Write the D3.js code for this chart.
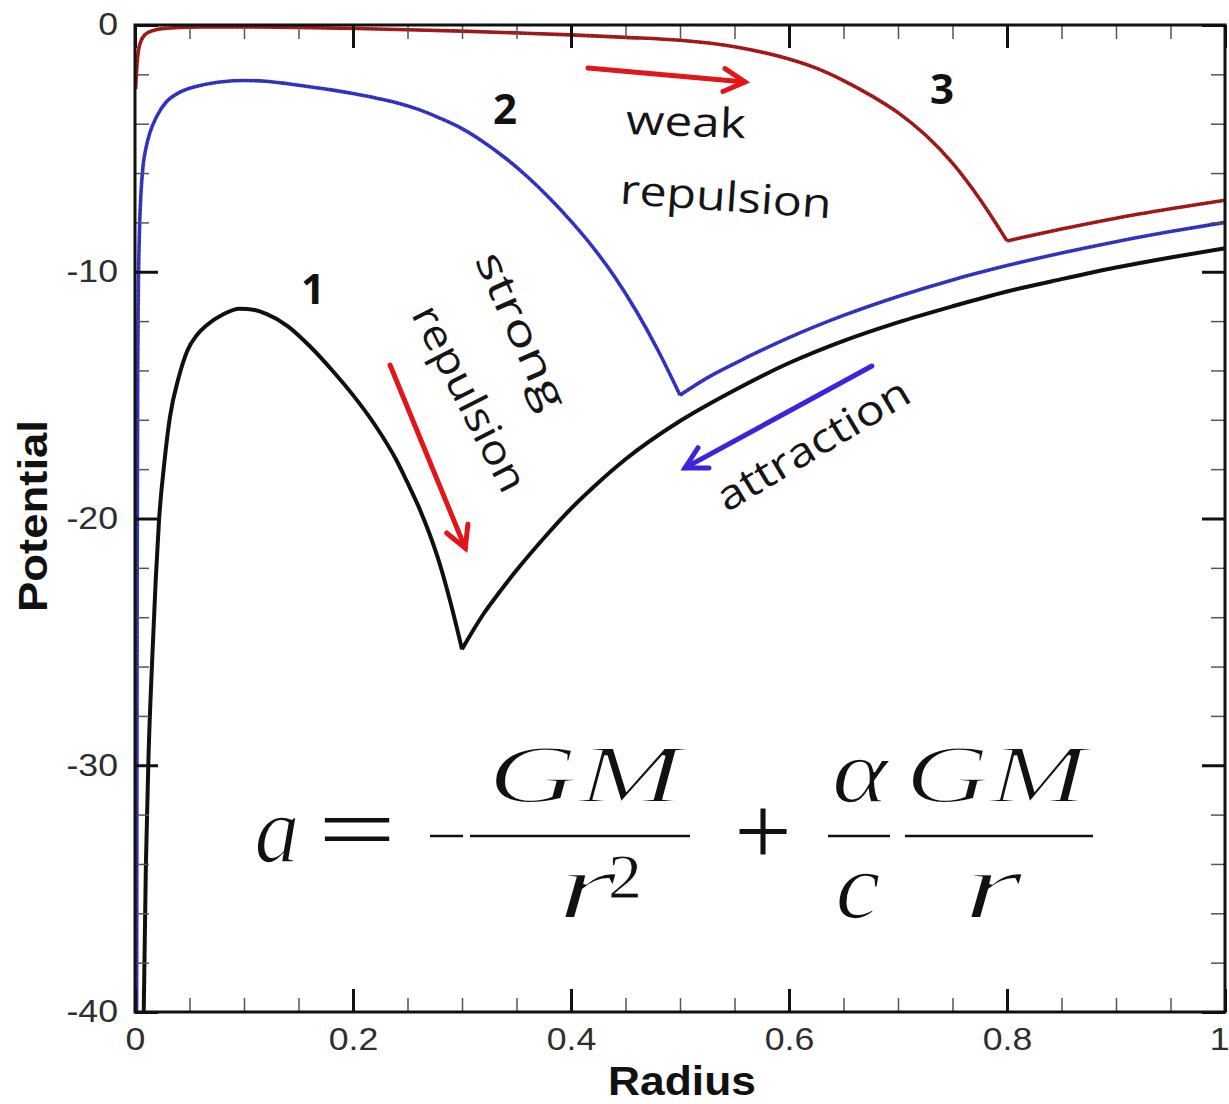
<!DOCTYPE html>
<html><head><meta charset="utf-8">
<script src="https://cdn.jsdelivr.net/npm/d3@7"></script>
<style>body{margin:0;background:#fff;} svg{display:block;}</style>
</head><body>
<script>
// ---- data ----
const radius1 = [0.008,0.010,0.0125,0.0156,0.019,0.022,0.027,0.032,0.04,0.048,0.057,0.066,0.081,0.096,0.11,0.12,0.14,0.16,0.18,0.2,0.22,0.24,0.25,0.26,0.27,0.28,0.29,0.3,
                 0.31,0.32,0.335,0.35,0.375,0.4,0.425,0.45,0.5,0.55,0.6,0.65,0.7,0.75,0.8,0.85,0.9,0.95,1.0];
const potential1 = [-40,-34,-29.5,-25.9,-22.5,-20.1,-17.7,-15.9,-14.3,-13.2,-12.55,-12.16,-11.72,-11.5,-11.55,-11.7,-12.2,-13.0,-13.95,-15.0,-16.2,-17.65,-18.55,-19.5,-20.6,-21.9,-23.5,-25.3,
                 -24.55,-23.85,-22.95,-22.1,-20.8,-19.6,-18.55,-17.6,-16.05,-14.8,-13.7,-12.8,-12.05,-11.4,-10.8,-10.3,-9.83,-9.42,-9.05];
const radius2 = [0.0015,0.002,0.0025,0.003,0.004,0.0055,0.0073,0.01,0.0138,0.02,0.029,0.04,0.06,0.08,0.1,0.12,0.14,0.16,0.18,0.2,0.22,0.24,0.26,0.28,0.3,0.32,0.34,0.36,0.38,0.4,0.42,0.44,0.46,0.48,0.5,
                 0.525,0.55,0.6,0.65,0.7,0.75,0.8,0.85,0.9,0.95,1.0];
const potential2 = [-40,-22,-14,-11,-8.5,-6.8,-5.75,-5.0,-4.35,-3.7,-3.1,-2.75,-2.45,-2.3,-2.25,-2.28,-2.38,-2.5,-2.63,-2.78,-2.95,-3.15,-3.42,-3.78,-4.2,-4.75,-5.4,-6.15,-7.0,-7.95,-9.0,-10.2,-11.6,-13.2,-15.0,
                 -14.3,-13.72,-12.67,-11.77,-11.0,-10.33,-9.75,-9.24,-8.78,-8.37,-8.0];
const radius3 = [0.0005,0.001,0.002,0.003,0.004,0.006,0.008,0.011,0.015,0.02,0.03,0.041,0.06,0.1,0.15,0.2,0.25,0.3,0.35,0.4,0.45,0.5,0.55,0.6,0.625,0.65,0.675,0.7,0.725,0.75,0.775,0.8,
                 0.85,0.9,0.95,1.0];
const potential3 = [-2.6,-2.2,-1.5,-1.1,-0.85,-0.6,-0.45,-0.33,-0.25,-0.18,-0.13,-0.1,-0.08,-0.08,-0.1,-0.14,-0.19,-0.25,-0.32,-0.4,-0.5,-0.62,-0.88,-1.38,-1.75,-2.25,-2.85,-3.55,-4.45,-5.6,-7.05,-8.75,
                 -8.27,-7.83,-7.45,-7.1];
const cuspRadius = [0.3, 0.5, 0.8];
const seriesNames = ["1","2","3"];

const xTicks = [0,0.2,0.4,0.6,0.8,1];
const xTickLabels = ["0","0.2","0.4","0.6","0.8","1"];
const xMinor = [0.05,0.1,0.15,0.25,0.3,0.35,0.45,0.5,0.55,0.65,0.7,0.75,0.85,0.9,0.95];
const yTicks = [0,-10,-20,-30,-40];
const yTickLabels = ["0","-10","-20","-30","-40"];
const yMinor = [-2,-4,-6,-8,-12,-14,-16,-18,-22,-24,-26,-28,-32,-34,-36,-38];

// ---- layout ----
const W = 1229, H = 1104;
const X0 = 135, X1 = 1225, Y0 = 25, Y1 = 1012;
const x = d3.scaleLinear().domain([0,1]).range([X0,X1]);
const y = d3.scaleLinear().domain([-40,0]).range([Y1,Y0]);

const svg = d3.select("body").append("svg").attr("width",W).attr("height",H);
svg.append("rect").attr("width",W).attr("height",H).attr("fill","#fff");

svg.append("defs").append("clipPath").attr("id","plot")
  .append("rect").attr("x",X0).attr("y",Y0).attr("width",X1-X0).attr("height",Y1-Y0);

// ---- curves ----
const colors = ["#121212","#3838cc","#ad1c1c"];
const allSeries = [[radius1,potential1],[radius2,potential2],[radius3,potential3]];
const line = d3.line().x(d=>x(d[0])).y(d=>y(d[1])).curve(d3.curveMonotoneX);
const gCurves = svg.append("g").attr("clip-path","url(#plot)");
allSeries.forEach(([rs,vs],i)=>{
  const pts = rs.map((r,j)=>[r,vs[j]]);
  const left = pts.filter(p=>p[0]<=cuspRadius[i]);
  const right = pts.filter(p=>p[0]>=cuspRadius[i]);
  [left,right].forEach(seg=>{
    gCurves.append("path").attr("d",line(seg)).attr("fill","none")
      .attr("stroke",colors[i]).attr("stroke-width",i===0?4:3.6).attr("stroke-linejoin","round");
    gCurves.append("path").attr("d",line(seg)).attr("fill","none")
      .attr("stroke",d3.color(colors[i]).darker(1)).attr("stroke-width",2.4)
      .attr("stroke-dasharray","2.5 2").attr("opacity",0.55);
  });
});

// ---- axes (ticks inward on all four sides) ----
function styleAxis(g){ g.select(".domain").remove(); }
const tickFont = "'Liberation Sans', Arial, sans-serif";
function styleLabels(g){
  g.selectAll("text").attr("font-family",tickFont).attr("font-size",31).attr("fill","#2e2e2e")
   .each(function(){ const L=this.getComputedTextLength(); d3.select(this).attr("textLength",L*1.15).attr("lengthAdjust","spacingAndGlyphs"); });
}
svg.append("g").attr("transform",`translate(0,${Y1})`)
  .call(d3.axisBottom(x).tickValues(xTicks).tickFormat((d,i)=>xTickLabels[i]).tickSizeInner(-23).tickSizeOuter(0).tickPadding(16))
  .call(styleAxis)
  .call(g=>{g.selectAll("line").attr("stroke","#111").attr("stroke-width",3); styleLabels(g);
            // keep the last label inside the picture
            g.selectAll("text").filter(d=>d===1).attr("text-anchor","end").attr("dx",4);});
svg.append("g").attr("transform",`translate(0,${Y1})`)
  .call(d3.axisBottom(x).tickValues(xMinor).tickFormat("").tickSizeInner(-14).tickSizeOuter(0))
  .call(styleAxis).call(g=>g.selectAll("line").attr("stroke","#555").attr("stroke-width",1.5));
svg.append("g").attr("transform",`translate(0,${Y0})`)
  .call(d3.axisTop(x).tickValues(xTicks).tickFormat("").tickSizeInner(-23).tickSizeOuter(0))
  .call(styleAxis).call(g=>g.selectAll("line").attr("stroke","#111").attr("stroke-width",3));
svg.append("g").attr("transform",`translate(0,${Y0})`)
  .call(d3.axisTop(x).tickValues(xMinor).tickFormat("").tickSizeInner(-14).tickSizeOuter(0))
  .call(styleAxis).call(g=>g.selectAll("line").attr("stroke","#555").attr("stroke-width",1.5));

svg.append("g").attr("transform",`translate(${X0},0)`)
  .call(d3.axisLeft(y).tickValues(yTicks).tickFormat((d,i)=>yTickLabels[i]).tickSizeInner(-23).tickSizeOuter(0).tickPadding(17))
  .call(styleAxis)
  .call(g=>{g.selectAll("line").attr("stroke","#111").attr("stroke-width",3); styleLabels(g);});
svg.append("g").attr("transform",`translate(${X0},0)`)
  .call(d3.axisLeft(y).tickValues(yMinor).tickFormat("").tickSizeInner(-14).tickSizeOuter(0))
  .call(styleAxis).call(g=>g.selectAll("line").attr("stroke","#555").attr("stroke-width",1.5));
svg.append("g").attr("transform",`translate(${X1},0)`)
  .call(d3.axisRight(y).tickValues(yTicks).tickFormat("").tickSizeInner(-23).tickSizeOuter(0))
  .call(styleAxis).call(g=>g.selectAll("line").attr("stroke","#111").attr("stroke-width",3));
svg.append("g").attr("transform",`translate(${X1},0)`)
  .call(d3.axisRight(y).tickValues(yMinor).tickFormat("").tickSizeInner(-14).tickSizeOuter(0))
  .call(styleAxis).call(g=>g.selectAll("line").attr("stroke","#555").attr("stroke-width",1.5));

// frame
svg.append("rect").attr("x",X0).attr("y",Y0).attr("width",X1-X0).attr("height",Y1-Y0)
  .attr("fill","none").attr("stroke","#111").attr("stroke-width",3);

// axis titles
svg.append("text").attr("x",682).attr("y",1095).attr("text-anchor","middle")
  .attr("font-family",tickFont).attr("font-weight","bold").attr("font-size",40).attr("fill","#111")
  .attr("textLength",148).attr("lengthAdjust","spacingAndGlyphs").text("Radius");
svg.append("text").attr("transform","translate(47,516) rotate(-90)").attr("text-anchor","middle")
  .attr("font-family",tickFont).attr("font-weight","bold").attr("font-size",40).attr("fill","#111")
  .attr("textLength",192).attr("lengthAdjust","spacingAndGlyphs").text("Potential");

// ---- annotations (positions in data coordinates) ----
const annFont = "'Open Sans', Lato, sans-serif";
const numLabels = [{t:seriesNames[0],r:0.1633,v:-10.62},{t:seriesNames[1],r:0.3394,v:-3.36},{t:seriesNames[2],r:0.7404,v:-2.55}];
numLabels.forEach(d=>{
  svg.append("text").attr("x",x(d.r)).attr("y",y(d.v)).attr("text-anchor","middle").attr("dominant-baseline","central")
    .attr("font-family",annFont).attr("font-weight","bold").attr("font-size",42).attr("fill","#111").text(d.t);
});
const words = [
  {t:"weak", r:0.5055, v:-3.85, rot:2, len:120},
  {t:"repulsion", r:0.5422, v:-6.89, rot:4, len:212},
  {t:"strong", r:0.356, v:-12.35, rot:66, len:168},
  {t:"repulsion", r:0.3085, v:-15.1, rot:63, len:204},
  {t:"attraction", r:0.6211, v:-16.94, rot:-31, len:218}
];
words.forEach(d=>{
  svg.append("text").attr("transform",`translate(${x(d.r)},${y(d.v)}) rotate(${d.rot})`)
    .attr("text-anchor","middle").attr("dominant-baseline","central")
    .attr("font-family",annFont).attr("font-size",41).attr("fill","#151515")
    .attr("textLength",d.len).attr("lengthAdjust","spacingAndGlyphs").text(d.t);
});
const arrows = [
  {r0:0.4156,v0:-1.74,r1:0.5596,v1:-2.31,c:"#e0161a"},
  {r0:0.234,v0:-13.78,r1:0.303,v1:-21.2,c:"#e0161a"},
  {r0:0.676,v0:-13.82,r1:0.5046,v1:-17.95,c:"#3a24e0"}
];
arrows.forEach(a=>{
  const xa=x(a.r0), ya=y(a.v0), xb=x(a.r1), yb=y(a.v1);
  const th=Math.atan2(yb-ya,xb-xa), L=24, sp=0.5;
  svg.append("line").attr("x1",xa).attr("y1",ya).attr("x2",xb).attr("y2",yb)
    .attr("stroke",a.c).attr("stroke-width",5).attr("stroke-linecap","round");
  svg.append("path").attr("d",`M${xb-L*Math.cos(th-sp)},${yb-L*Math.sin(th-sp)}L${xb},${yb}L${xb-L*Math.cos(th+sp)},${yb-L*Math.sin(th+sp)}`)
    .attr("fill","none").attr("stroke",a.c).attr("stroke-width",5).attr("stroke-linecap","round").attr("stroke-linejoin","miter");
});

// ---- formula ----
const fm = svg.append("g").attr("fill","#111");
const serif = "'Liberation Serif', 'DejaVu Serif', serif";
function ft(t,cx,by,size,len,italic,thin){
  const s = fm.append("text").attr("x",cx).attr("y",by).attr("text-anchor","middle")
    .attr("font-family",serif).attr("font-style",italic?"italic":"normal").attr("font-size",size)
    .attr("textLength",len).attr("lengthAdjust","spacingAndGlyphs").text(t);
  if (thin) s.attr("stroke","#fff").attr("stroke-width",thin).attr("paint-order","fill stroke");
}
function bar(xa,xb,yy){ fm.append("line").attr("x1",xa).attr("x2",xb).attr("y1",yy).attr("y2",yy).attr("stroke","#111").attr("stroke-width",2.6); }
ft("a",277,862,95,45,true,1.6);
ft("=",357,860,92,78,false,0);
bar(430,463,836);
bar(470,690,836);
ft("GM",585,802,82,195,true,2.2);
ft("r",587,918,95,60,true,2.2);
ft("2",625,898,64,34,false,0.8);
ft("+",763,865,100,57,false,0);
bar(828,890,836);
ft("\u03b1",860,802,92,56,true,1.6);
ft("c",858,918,95,45,true,1.6);
bar(905,1093,836);
ft("GM",996,802,82,182,true,2.2);
ft("r",993,918,95,60,true,2.2);
</script>
</body></html>
